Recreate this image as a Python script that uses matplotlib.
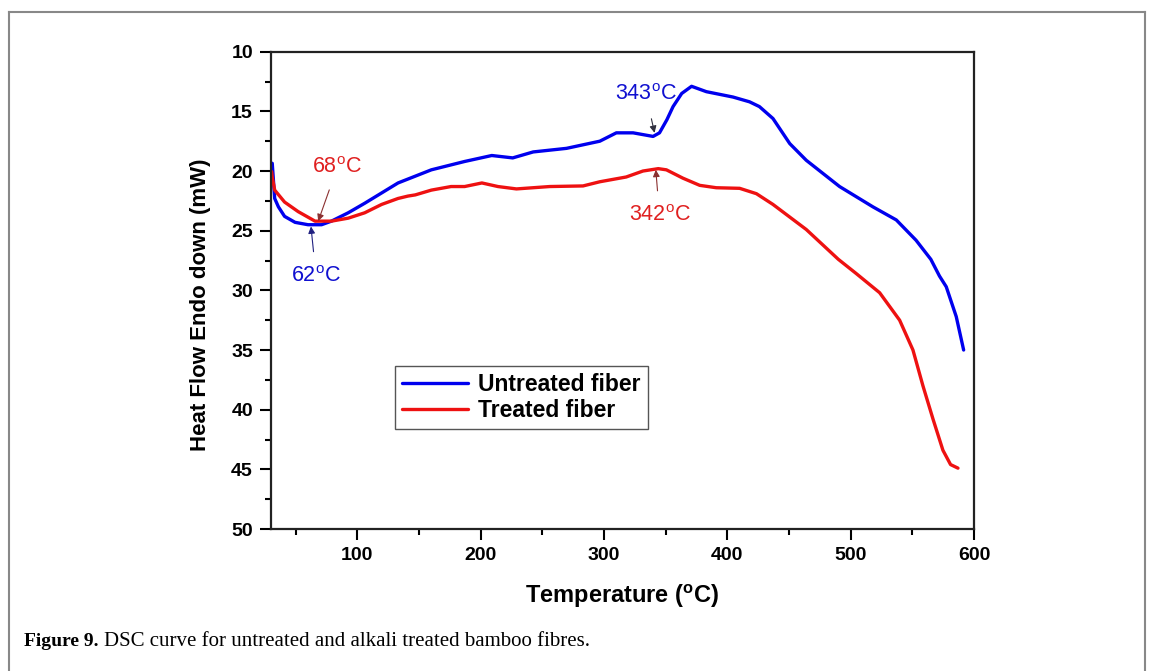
import numpy as np
import matplotlib
matplotlib.use('Agg')
import matplotlib.pyplot as plt
from matplotlib.lines import Line2D

# data
temp_untreated = [31, 33, 36, 41, 49.5, 60, 71, 79, 92.6, 106, 133, 160, 187, 209, 226,
                  242.6, 269.6, 296.6, 310, 323.6, 339.8, 345, 351, 356, 363, 371, 383, 404.6,
                  418, 426, 437, 450.6, 464, 491, 518, 537, 553, 565, 572, 577.5, 585.6, 591.6]
hf_untreated = [19.35, 22.3, 23.0, 23.8, 24.3, 24.5, 24.5, 24.2, 23.5, 22.7, 21.0, 19.9, 19.2, 18.7, 18.9,
                18.4, 18.1, 17.5, 16.8, 16.8, 17.1, 16.8, 15.7, 14.6, 13.5, 12.9, 13.35, 13.8,
                14.2, 14.6, 15.6, 17.7, 19.1, 21.3, 23.0, 24.1, 25.8, 27.4, 28.8, 29.7, 32.2, 35.0]

temp_treated = [30.5, 31, 33, 41, 52, 65.7, 79, 92.6, 106, 119.7, 133, 141, 147, 160, 176, 187,
                201, 214, 229, 256, 283, 296.6, 318, 331.6, 344, 350.6, 364, 377.6, 391, 410,
                423.6, 437, 464, 490, 504.6, 523.5, 539.7, 550.5, 558.6, 566.8, 574.8, 581, 587]
hf_treated = [20.05, 20.5, 21.6, 22.6, 23.4, 24.2, 24.2, 23.95, 23.5, 22.8, 22.3, 22.1, 22.0, 21.6, 21.3, 21.3,
              21.0, 21.3, 21.5, 21.3, 21.25, 20.9, 20.5, 20.0, 19.8, 19.9, 20.6, 21.2, 21.4, 21.45,
              21.9, 22.8, 24.9, 27.4, 28.6, 30.2, 32.5, 35.0, 38.0, 40.8, 43.4, 44.6, 44.9]

plt.rcParams['font.family'] = ['Liberation Sans', 'DejaVu Sans']

fig = plt.figure(figsize=(11.53, 6.71), dpi=100)
ax = fig.add_axes([271/1153, 1-529/671, (974-271)/1153, (529-51.7)/671])

ax.plot(temp_untreated, hf_untreated, color='#0000ee', lw=2.4, label='Untreated fiber',
        solid_joinstyle='round', solid_capstyle='round')
ax.plot(temp_treated, hf_treated, color='#ee1111', lw=2.4, label='Treated fiber',
        solid_joinstyle='round', solid_capstyle='round')

ax.set_xlim(30, 600)
ax.set_ylim(50, 10)
ax.set_xticks([100, 200, 300, 400, 500, 600])
ax.set_xticks(np.arange(50, 600, 100), minor=True)
ax.set_yticks(np.arange(10, 51, 5))
ax.set_yticks(np.arange(12.5, 50, 5), minor=True)
ax.tick_params(which='major', direction='out', length=8, width=1.5, pad=5,
               labelsize=14, top=False, right=False)
ax.tick_params(which='minor', direction='out', length=4, width=1.5, top=False, right=False)
for lab in ax.get_xticklabels() + ax.get_yticklabels():
    lab.set_fontweight('bold')
for s in ax.spines.values():
    s.set_linewidth(1.6)
    s.set_color('#222222')

ax.set_xlabel('Temperature ($^\\mathregular{o}$C)', fontsize=17, fontweight='bold', labelpad=13)
ax.set_ylabel('Heat Flow Endo down (mW)', fontsize=16, fontweight='bold')
ax.yaxis.set_label_coords(-0.085, 0.469)

# peak annotations
ann = dict(fontsize=15.5, ha='center', va='center')
ax.annotate('68$^\\mathregular{o}$C', xy=(68.3, 24.2), xytext=(83.7, 19.7), color='#e02020',
            arrowprops=dict(arrowstyle='-|>', color='#8b3030', lw=0.8, mutation_scale=10,
                            shrinkA=7, shrinkB=0), **ann)
ax.annotate('62$^\\mathregular{o}$C', xy=(62.4, 24.65), xytext=(66.5, 28.8), color='#1010d0',
            arrowprops=dict(arrowstyle='-|>', color='#202080', lw=0.8, mutation_scale=10,
                            shrinkA=8, shrinkB=0), **ann)
ax.annotate('343$^\\mathregular{o}$C', xy=(341, 16.8), xytext=(334, 13.6), color='#1010d0',
            arrowprops=dict(arrowstyle='-|>', color='#303040', lw=0.8, mutation_scale=10,
                            shrinkA=8, shrinkB=0), **ann)
ax.annotate('342$^\\mathregular{o}$C', xy=(342, 19.9), xytext=(345, 23.7), color='#e02020',
            arrowprops=dict(arrowstyle='-|>', color='#8b3030', lw=0.8, mutation_scale=10,
                            shrinkA=8, shrinkB=0), **ann)

leg = ax.legend(loc='upper left', bbox_to_anchor=(0.176, 0.3415), borderaxespad=0,
                fancybox=False, framealpha=1, edgecolor='#555555',
                prop={'size': 16.5, 'weight': 'bold'}, handlelength=2.9,
                borderpad=0.3, labelspacing=0.15, handletextpad=0.45)
leg.get_frame().set_linewidth(1.0)

# outer frame of the figure panel
W, H = 1153, 671
fx = lambda px: px / W
fy = lambda py: 1 - py / H
for xs, ys in [([9, 1145], [12, 12]), ([9, 9], [12, 671]), ([1145, 1145], [12, 671])]:
    fig.add_artist(Line2D([fx(v) for v in xs], [fy(v) for v in ys], color='#888888', lw=1.5))

fig.text(fx(24), fy(642), 'Figure 9.', family='Liberation Serif', fontweight='bold',
         fontsize=14, va='center', ha='left')
fig.text(fx(104), fy(642), 'DSC curve for untreated and alkali treated bamboo fibres.',
         family='Liberation Serif', fontsize=15, va='center', ha='left')

fig.savefig('out.png', dpi=100)
